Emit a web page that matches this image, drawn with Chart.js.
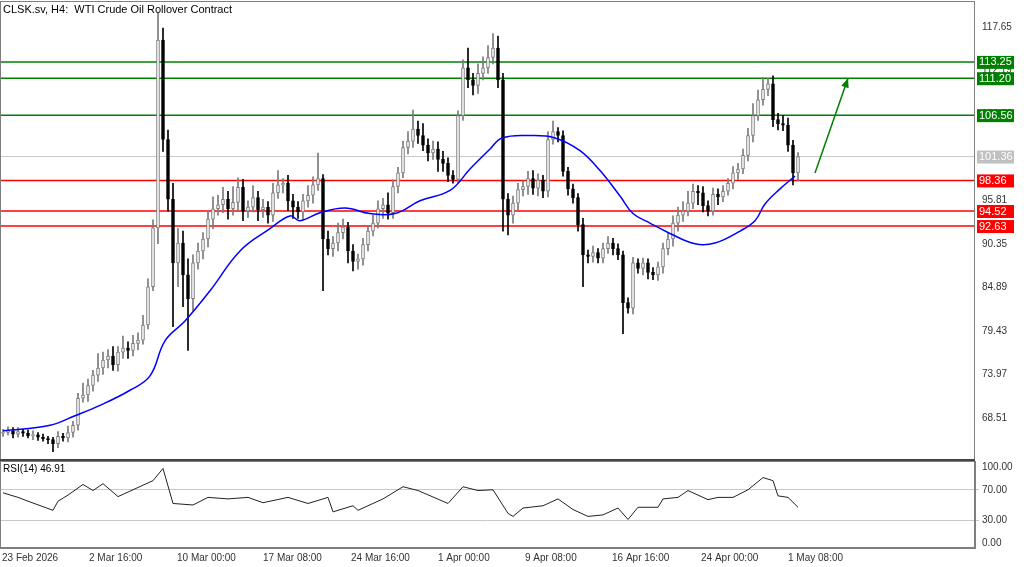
<!DOCTYPE html>
<html><head><meta charset="utf-8">
<script src="https://cdn.jsdelivr.net/npm/chart.js@4.4.1/dist/chart.umd.min.js"></script>
<style>
html,body{margin:0;padding:0;background:#fff;width:1024px;height:567px;overflow:hidden;font-family:"Liberation Sans",sans-serif}
#c1{position:absolute;left:0;top:-8px}
#c2{position:absolute;left:0;top:452px}
</style></head><body>
<canvas id="c1" width="1024" height="477"></canvas>
<canvas id="c2" width="1024" height="115"></canvas>
<script>
const titleText = "CLSK.sv, H4:  WTI Crude Oil Rollover Contract";
const rsiLabel = "RSI(14) 46.91";
const closes = [
66.7,66.9,66.5,66.8,66.6,66.3,66.4,66.1,65.9,65.8,
65.3,66.2,66.0,66.7,67.6,71.0,71.4,72.6,73.9,74.8,
75.8,76.3,75.2,76.8,77.3,77.0,77.9,78.3,80.2,85.0,
92.4,116.0,103.5,96.0,88.0,90.5,86.5,83.5,88.0,89.5,
91.0,93.5,94.8,95.3,96.0,94.8,95.6,97.5,94.5,95.0,
96.2,94.7,95.0,94.0,96.8,97.8,98.0,95.8,95.0,94.4,
95.8,96.5,97.8,98.6,91.0,89.8,90.5,91.8,92.5,89.5,
88.2,88.5,90.3,92.0,93.0,94.8,95.3,94.3,97.6,99.3,
102.5,103.3,104.8,104.0,102.8,101.8,102.3,101.0,100.5,99.0,
98.5,106.5,112.5,111.0,110.3,111.8,112.5,113.8,115.0,111.0,
96.0,94.0,95.5,97.2,97.6,98.6,97.4,98.4,97.0,103.5,
104.5,104.0,99.5,97.3,96.2,92.8,89.0,88.8,89.3,88.6,
89.8,90.5,89.8,89.0,83.0,82.3,88.0,87.3,88.0,86.8,
86.5,87.5,89.8,91.0,93.0,94.0,94.5,95.5,97.0,96.8,
95.2,94.5,96.6,96.3,97.0,98.0,99.3,99.8,101.5,104.0,
106.5,108.5,109.8,110.5,106.0,105.5,105.3,102.8,99.3,101.36];
const firstOpen = 66.6;
const upperWick = [
.4,.5,.4,.5,.3,.4,.5,.3,.4,.3, .3,.6,.4,.8,.5,.6,1.5,.8,.6,1.8,
1.0,.8,1.2,.7,1.5,.8,1.0,.9,1.2,1.0, 1.0,3.5,1.5,1.2,2.0,1.8,1.5,2.0,1.0,1.0,
.8,1.0,1.5,1.2,1.5,1.0,2.0,1.2,1.0,.8, 1.5,.8,1.0,.7,1.2,1.8,.6,1.0,.8,.7,
.8,1.2,1.0,3.2,.5,1.0,.8,1.2,1.0,.6, .8,.6,.8,.7,1.0,1.0,.8,1.5,.8,.7,
.8,1.2,2.4,1.0,1.5,.8,1.0,.9,1.0,.7, .6,.6,1.0,2.5,.8,1.2,1.4,1.5,1.8,1.5,
.8,.7,.9,.8,.7,.9,1.0,.8,.6,1.0, 1.3,.5,.6,.5,.6,.5,.8,.6,.8,.5,
.7,.8,.6,.6,.5,.6,.7,.5,.6,.5, .6,.6,.7,.8,.9,1.0,1.2,1.5,.9,.7,
.8,.6,.8,.7,.7,.6,.8,.7,.8,.9, 1.5,1.2,1.5,.7,1.0,.8,1.0,.9,.6,.5];
const lowerWick = [
.4,.3,.5,.4,.4,.3,.5,.4,.3,.5, 1.0,.5,.4,.5,.6,.6,.5,.8,.7,.8,
.8,1.0,.7,.8,.8,1.0,.7,.8,.5,.5, .5,2.0,1.5,1.5,8.0,3.0,4.0,6.5,1.5,.8,
1.0,1.0,1.2,.8,1.0,1.3,.8,1.0,1.2,.8, .6,1.4,1.0,1.0,.8,.7,1.0,1.2,1.4,.8,
1.0,.8,1.0,.7,6.5,.8,1.0,1.0,.8,1.5, 1.2,1.0,.8,.8,.6,.6,1.2,.8,.7,.8,
.6,.8,.8,1.0,.7,1.0,.8,1.5,1.0,.8, .5,.5,.6,1.0,1.2,1.0,.8,.7,.8,1.0,
4.0,2.5,1.0,.8,.8,1.0,.8,1.0,.8,.7, .6,.8,.6,.8,.7,.8,4.0,.8,.7,.6,
.6,.6,.8,.6,3.9,.6,.7,.6,.8,.8, .6,.7,.8,.8,.9,1.0,.8,.6,.7,1.5,
.8,.6,.5,1.0,.6,.5,.7,.8,.6,.7, .8,.6,.7,.8,.9,.8,.7,.8,1.5,1.0];
const maIdx = [0,9.4,14.4,19.4,25.4,29.4,32.4,36.4,41.4,47.4,53.4,57.4,59.4,63.4,68.4,73.4,78.4,83.4,89.4,93.4,97.4,99.8,105.4,110.4,115.4,119.4,123.4,126,129.4,133.4,138.4,142.4,147.4,150.4,152.4,155.4,158.4];
const maVal = [66.9,67.6,68.8,70.1,72.0,73.8,78.2,80.7,84.5,89.5,92.3,93.9,93.3,94.3,94.9,94.2,94.2,95.8,97.1,99.8,102.3,103.7,104.0,103.7,102.1,99.6,96.4,94.2,93.0,91.7,90.4,90.5,92.0,93.3,95.4,97.3,98.9];
const rsiIdx = [0,3,5,10,11,13,16,18,20,23,26,30,32,34,38,41,45,49,52,57,61,65,66,70,71,76,80,83,89,92,95,98,101,102,104,108,111,114,117,120,123,125,127,131,132,135,137,141,143,146,149,152,154,155,157,159];
const rsiVal = [66,60,55,43,55,63,77,69,78,61,70,82,98,52,50,60,58,60,53,60,52,60,41,49,43,58,74,69,52,74,69,70,39,35,46,49,58,44,35,37,46,31,47,47,58,60,69,57,60,60,70,86,82,62,60,47];
const levels = [
 {v:113.25, c:'#008000', w:1.5, tag:'113.25', tc:'#008000'},
 {v:111.20, c:'#008000', w:1.5, tag:'111.20', tc:'#008000'},
 {v:106.56, c:'#008000', w:1.5, tag:'106.56', tc:'#008000'},
 {v:101.36, c:'#c8c8c8', w:1, tag:'101.36', tc:'#c0c0c0'},
 {v:98.36, c:'#ff0000', w:1.5, tag:'98.36', tc:'#ff0000'},
 {v:94.52, c:'#ff4040', w:2, tag:'94.52', tc:'#ff0000'},
 {v:92.63, c:'#ff4040', w:2, tag:'92.63', tc:'#ff0000'}];
const priceTicks = [117.65,112.19,106.73,101.27,95.81,90.35,84.89,79.43,73.97,68.51];
const arrowPts = [[162.4,99.3],[169,111.2]];
const timeTickIdx = [-0.2,17.2,34.8,52,69.6,87,104.4,121.8,139.6,157];
const timeTickLbl = ["23 Feb 2026","2 Mar 16:00","10 Mar 00:00","17 Mar 08:00","24 Mar 16:00","1 Apr 00:00","9 Apr 08:00","16 Apr 16:00","24 Apr 00:00","1 May 08:00"];
const rsiTicks = [0,30,70,100];

const FONT = '"Liberation Sans", Arial, sans-serif';
const XMIN=-0.6, XMAX=194.4;
const bodies=[], wicks=[], bodyBg=[], bodyBd=[], wickC=[];
closes.forEach((c,i)=>{
  const o = i===0?firstOpen:closes[i-1];
  const hi=Math.max(o,c)+upperWick[i], lo=Math.min(o,c)-lowerWick[i];
  const up=c>=o;
  let b0=Math.min(o,c), b1=Math.max(o,c); if(b1-b0<0.12){b1=b0+0.12;}
  bodies.push({x:i,y:[b0,b1]}); wicks.push({x:i,y:[lo,hi]});
  bodyBg.push(up?'#f4f4f4':'#000000'); bodyBd.push(up?'#7a7a7a':'#000000'); wickC.push(up?'#7a7a7a':'#000000');
});
const levelSets = levels.map(l=>({type:'line',data:[{x:XMIN,y:l.v},{x:XMAX,y:l.v}],borderColor:l.c,borderWidth:l.w,pointRadius:0,order:5}));

const framePlugin={id:'frame',afterDraw(ch,a,o){const {ctx,chartArea:ca}=ch;ctx.save();ctx.strokeStyle='#7f7f7f';ctx.lineWidth=1;ctx.strokeRect(ca.left+0.5,ca.top+0.5,ca.right-ca.left-1,ca.bottom-ca.top-1);ctx.restore();}};
const tagPlugin={id:'tags',afterDraw(ch){
  const {ctx,chartArea:ca}=ch; const ys=ch.scales.y, xs=ch.scales.x;
  ctx.save();
  const p0=[xs.getPixelForValue(arrowPts[0][0]),ys.getPixelForValue(arrowPts[0][1])];
  const p1=[xs.getPixelForValue(arrowPts[1][0]),ys.getPixelForValue(arrowPts[1][1])];
  ctx.strokeStyle='#008000';ctx.fillStyle='#008000';ctx.lineWidth=1.5;
  ctx.beginPath();ctx.moveTo(p0[0],p0[1]);ctx.lineTo(p1[0],p1[1]);ctx.stroke();
  const ang=Math.atan2(p1[1]-p0[1],p1[0]-p0[0]);
  ctx.beginPath();ctx.moveTo(p1[0],p1[1]);
  ctx.lineTo(p1[0]-10*Math.cos(ang-0.4),p1[1]-10*Math.sin(ang-0.4));
  ctx.lineTo(p1[0]-10*Math.cos(ang+0.4),p1[1]-10*Math.sin(ang+0.4));ctx.closePath();ctx.fill();
  ctx.fillStyle='#000';ctx.font='11px '+FONT;ctx.textBaseline='middle';ctx.textAlign='left';
  ctx.fillText(titleText,3,ca.top+9);
  ctx.font='11px '+FONT;
  levels.forEach(l=>{const y=ys.getPixelForValue(l.v);
    ctx.fillStyle=l.tc;ctx.fillRect(ca.right+2,y-6,37,13);
    ctx.fillStyle='#fff';ctx.textAlign='left';ctx.fillText(l.tag,ca.right+4,y+0.5);});
  ctx.restore();
}};

new Chart(document.getElementById('c1'),{
  type:'bar',
  data:{datasets:[
    {type:'bar',data:wicks,backgroundColor:wickC,borderWidth:0,barThickness:1,grouped:false,order:3},
    {type:'bar',data:bodies,backgroundColor:bodyBg,borderColor:bodyBd,borderWidth:1,borderSkipped:false,barThickness:3,grouped:false,order:2},
    {type:'line',data:maIdx.map((x,i)=>({x,y:maVal[i]})),borderColor:'#0000ff',borderWidth:1.5,pointRadius:0,tension:0.4,order:1},
    ...levelSets]},
  options:{animation:false,responsive:false,maintainAspectRatio:false,
    layout:{padding:0},
    plugins:{legend:{display:false},tooltip:{enabled:false}},
    scales:{
      x:{type:'linear',min:XMIN,max:XMAX,display:false,offset:false},
      y:{position:'right',min:63.24,max:120.9,afterFit(s){s.width=49;},
        afterBuildTicks(s){s.ticks=priceTicks.map(v=>({value:v}));},
        grid:{display:false,drawTicks:true,tickLength:4,color:'#333'},
        border:{display:false},
        ticks:{color:'#333',font:{size:10,family:FONT},padding:3,callback:v=>v.toFixed(2)}}}
  },
  plugins:[framePlugin,tagPlugin]
});

const rsiPlugin={id:'rsiTxt',afterDraw(ch){const {ctx,chartArea:ca}=ch;ctx.save();
  ctx.fillStyle='#000';ctx.font='10px '+FONT;ctx.textBaseline='middle';ctx.textAlign='left';ctx.fillText(rsiLabel,3,ca.top+8);
  ctx.strokeStyle='#444';ctx.lineWidth=2;ctx.beginPath();ctx.moveTo(0,ca.top-1);ctx.lineTo(ca.right,ca.top-1);ctx.stroke();ctx.restore();}};
new Chart(document.getElementById('c2'),{
  type:'line',
  data:{datasets:[{data:rsiIdx.map((x,i)=>({x,y:rsiVal[i]})),borderColor:'#222',borderWidth:1,pointRadius:0,tension:0}]},
  options:{animation:false,responsive:false,maintainAspectRatio:false,
    layout:{padding:0},
    plugins:{legend:{display:false},tooltip:{enabled:false}},
    scales:{
      x:{type:'linear',min:XMIN,max:XMAX,afterFit(s){s.height=19;},
        afterBuildTicks(s){s.ticks=timeTickIdx.map(v=>({value:v}));},
        grid:{display:false,drawTicks:true,tickLength:3,color:'#333'},border:{color:'#7f7f7f'},
        ticks:{autoSkip:false,maxRotation:0,align:'start',color:'#333',font:{size:10,family:FONT},padding:1,
          callback:(v,i)=>timeTickLbl[i]}},
      y:{position:'right',min:-6.5,max:107.8,afterFit(s){s.width=49;},
        afterBuildTicks(s){s.ticks=rsiTicks.map(v=>({value:v}));},
        grid:{drawTicks:true,tickLength:4,color:c=>(c.tick&&(c.tick.value===30||c.tick.value===70))?'#c8c8c8':'rgba(0,0,0,0)'},
        border:{color:'#7f7f7f'},
        ticks:{color:'#333',font:{size:10,family:FONT},padding:3,callback:v=>v.toFixed(2)}}}
  },
  plugins:[framePlugin,rsiPlugin]
});
</script></body></html>
